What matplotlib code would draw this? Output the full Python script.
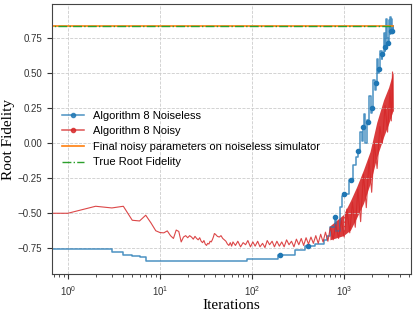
import matplotlib
matplotlib.use("Agg")
import matplotlib.pyplot as plt
from matplotlib.lines import Line2D
import numpy as np

# Algorithm 8 noiseless (step trace)
noiseless_iter = [0, 1, 2, 3, 4, 5, 6, 7, 8, 89, 192, 293, 380, 480, 600, 650, 700, 790, 820,
                  900, 950, 1000, 1130, 1200, 1250, 1350, 1400, 1480, 1560, 1600, 1650, 1700,
                  1750, 1800, 1880, 1950, 2000, 2080, 2150, 2200, 2280, 2350, 2400, 2470, 2550,
                  2600, 2680, 2750, 2800, 2880, 2950, 3000, 3060, 3120, 3150, 3200, 3250, 3300,
                  3350, 3400]
noiseless_val = [-0.752, -0.752, -0.752, -0.78, -0.80, -0.805, -0.815, -0.84, -0.843, -0.824,
                 -0.795, -0.764, -0.733, -0.72, -0.69, -0.66, -0.60, -0.53, -0.63, -0.455,
                 -0.38, -0.36, -0.26, -0.26, -0.157, -0.10, -0.057, 0.08, 0.02, 0.12, 0.21,
                 0.0, 0.17, 0.15, 0.34, 0.22, 0.25, 0.45, 0.38, 0.43, 0.60, 0.50, 0.53, 0.66,
                 0.60, 0.64, 0.79, 0.66, 0.69, 0.89, 0.75, 0.72, 0.88, 0.78, 0.90, 0.80, 0.89,
                 0.79, 0.84, 0.80]
noiseless_mark_iter = [200, 400, 800, 1000, 1200, 1400, 1600, 1800, 2000, 2200, 2400, 2600,
                       2800, 3000, 3200, 3300]
noiseless_mark_val = [-0.795, -0.733, -0.53, -0.36, -0.26, -0.057, 0.12, 0.15, 0.25, 0.43,
                      0.53, 0.64, 0.69, 0.72, 0.80, 0.80]

# Algorithm 8 noisy
noisy_iter = [0, 1, 2, 3, 4, 5, 6, 7, 8, 9, 10, 11, 12, 13, 14, 15, 16, 17, 18, 19, 20, 21, 22,
              23, 24, 25, 26, 27, 28, 29, 30, 31, 32, 33, 34, 35, 36, 37, 38, 39, 40, 42, 44,
              46, 48, 50, 52, 54, 56, 58, 60, 62, 66, 70, 75, 80, 85, 90, 96, 102, 108, 115,
              122, 130, 138, 146, 155, 165, 175, 186, 198, 210, 223, 237, 252, 268, 285, 303,
              322, 342, 363, 386, 410, 436, 463, 492, 523, 556, 590, 627, 666, 708, 760, 810,
              870, 930, 1000, 1070, 1150, 1230, 1320, 1410, 1510, 1620, 1740, 1860, 1990,
              2130, 2280, 2440, 2600, 2780, 2960, 3150, 3250, 3350, 3400]
noisy_val = [-0.502, -0.50, -0.45, -0.462, -0.45, -0.55, -0.555, -0.514, -0.57, -0.625,
             -0.638, -0.64, -0.626, -0.66, -0.68, -0.62, -0.63, -0.705, -0.67, -0.66, -0.675,
             -0.66, -0.67, -0.685, -0.665, -0.68, -0.69, -0.675, -0.70, -0.71, -0.695, -0.72,
             -0.73, -0.715, -0.72, -0.70, -0.705, -0.69, -0.67, -0.645, -0.65, -0.665, -0.67,
             -0.66, -0.68, -0.69, -0.70, -0.72, -0.73, -0.71, -0.735, -0.705, -0.73, -0.70,
             -0.74, -0.71, -0.725, -0.695, -0.74, -0.705, -0.735, -0.70, -0.74, -0.715, -0.745,
             -0.695, -0.725, -0.70, -0.74, -0.70, -0.735, -0.705, -0.74, -0.69, -0.725, -0.70,
             -0.74, -0.685, -0.725, -0.68, -0.73, -0.675, -0.72, -0.67, -0.715, -0.66,
             -0.715, -0.65, -0.705, -0.635, -0.70, -0.60, -0.69, -0.58, -0.68, -0.55, -0.67,
             -0.47, -0.64, -0.42, -0.60, -0.33, -0.56, -0.22, -0.46, -0.12, -0.35, 0.0, -0.18,
             0.12, 0.0, 0.27, 0.08, 0.38, 0.16, 0.51, 0.23]

# envelope of the dense noisy band
band_iter = [700, 980, 1170, 1370, 1620, 1910, 2260, 2680, 3040, 3400]
band_top = [-0.59, -0.51, -0.41, -0.31, -0.19, -0.06, 0.15, 0.31, 0.40, 0.51]
band_bottom = [-0.69, -0.66, -0.62, -0.53, -0.43, -0.29, -0.10, 0.045, 0.14, 0.235]

# horizontal references
ref_iter = [0, 3400]
final_noisy_on_noiseless = [0.835, 0.835]
true_root_fidelity = [0.84, 0.84]

blue, red, orange, green = "#1f77b4", "#d62728", "#ff7f0e", "#2ca02c"
tick_font = "Liberation Sans"

fig = plt.figure(figsize=(4.15, 3.14), dpi=100)
ax = fig.add_axes([0.125, 0.127, 0.865, 0.860])
ax.set_xscale("log")

ax.plot(noiseless_iter, noiseless_val, color=blue, lw=1.1, alpha=0.8, drawstyle="steps-post")
ax.plot(noiseless_mark_iter, noiseless_mark_val, "o", color=blue, ms=3)
ax.fill_between(band_iter, band_bottom, band_top, color=red, alpha=0.9, lw=0)
ax.plot(noisy_iter, noisy_val, color=red, lw=0.8, alpha=0.85)
ax.plot(ref_iter, final_noisy_on_noiseless, color=orange, lw=1.2)
ax.plot(ref_iter, true_root_fidelity, color=green, lw=1.0, ls="-.")

ax.set_xlim(0.67, 5300)
ax.set_ylim(-0.935, 0.995)
ax.set_yticks([-0.75, -0.5, -0.25, 0.0, 0.25, 0.5, 0.75])
ax.grid(True, which="major", ls="--", lw=0.6, color="#cccccc")
ax.tick_params(which="both", direction="out", labelsize=7, colors="#333333")
for lbl in ax.get_xticklabels() + ax.get_yticklabels():
    lbl.set_family(tick_font)
for s in ax.spines.values():
    s.set_color("#444444")

ax.set_xlabel("Iterations", family="Liberation Serif", fontsize=11, labelpad=1)
ax.set_ylabel("Root Fidelity", family="Liberation Serif", fontsize=11, labelpad=2)

handles = [
    Line2D([], [], color=blue, lw=1.1, alpha=0.8, marker="o", ms=3),
    Line2D([], [], color=red, lw=1.1, alpha=0.8, marker="o", ms=3),
    Line2D([], [], color=orange, lw=1.2),
    Line2D([], [], color=green, lw=1.0, ls="-."),
]
labels = ["Algorithm 8 Noiseless", "Algorithm 8 Noisy",
          "Final noisy parameters on noiseless simulator", "True Root Fidelity"]
ax.legend(handles, labels, loc="center left", frameon=False,
          prop={"family": tick_font, "size": 8})

fig.savefig("out.png", dpi=100)
